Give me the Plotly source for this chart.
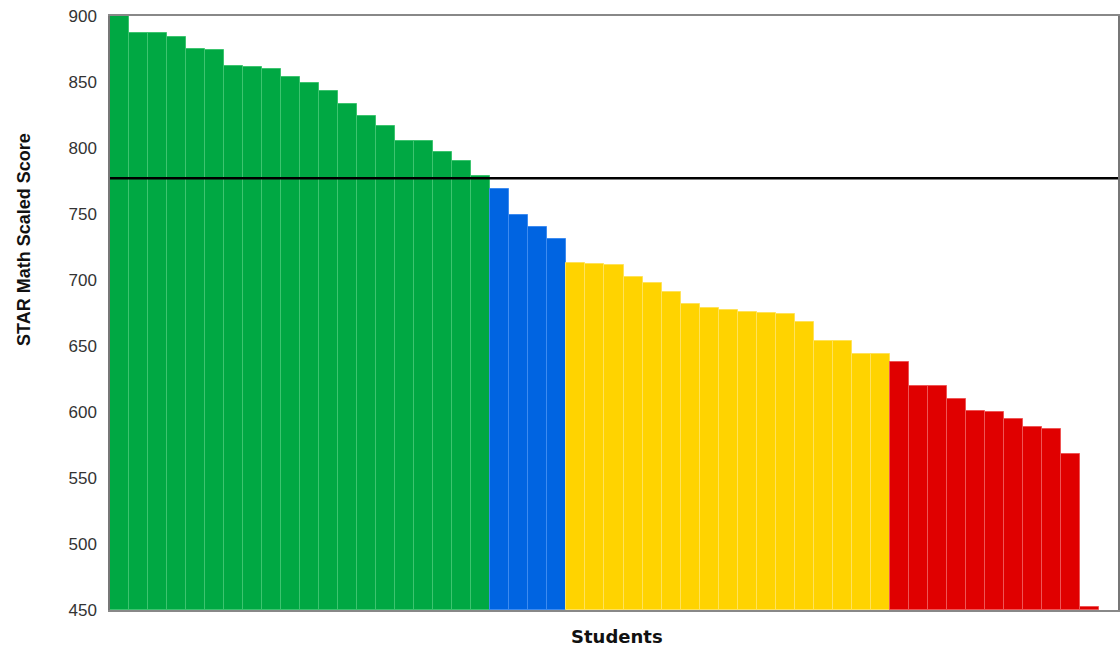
import plotly.graph_objects as go

# Data
green_scores = [900, 887, 887, 884, 875, 874, 862, 861, 860, 854, 849, 843, 833, 824, 817, 805, 805, 797, 790, 779]
blue_scores = [769, 749, 740, 731]
yellow_scores = [713, 712, 711, 702, 698, 691, 682, 679, 677, 676, 675, 674, 668, 654, 654, 644, 644]
red_scores = [638, 620, 620, 610, 601, 600, 595, 589, 587, 568, 452]
benchmark = 777
y_min, y_max = 450, 900
y_ticks = [450, 500, 550, 600, 650, 700, 750, 800, 850, 900]

groups = [
    (green_scores, "#00A843", "#3DC46F"),
    (blue_scores, "#0064E1", "#3D8BF0"),
    (yellow_scores, "#FFD300", "#FFE25A"),
    (red_scores, "#E00000", "#EE5555"),
]

fig = go.Figure()
idx = 0
for scores, color, edge in groups:
    xs = list(range(idx, idx + len(scores)))
    idx += len(scores)
    fig.add_trace(go.Bar(
        x=xs, y=[v - y_min for v in scores], base=y_min,
        marker=dict(color=color, line=dict(color=edge, width=1)),
        showlegend=False, hoverinfo="skip",
    ))

n_slots = idx + 1
fig.add_shape(type="line", xref="paper", yref="y", x0=0, x1=1, y0=benchmark, y1=benchmark,
              line=dict(color="black", width=2.5))

fig.add_annotation(text="<b>Students</b>", xref="paper", yref="paper", x=0.503, y=0,
                   yshift=-26, showarrow=False, yanchor="middle", xanchor="center",
                   font=dict(family="DejaVu Sans, Verdana, sans-serif", size=18, color="#111111"))
fig.add_annotation(text="<b>STAR Math Scaled Score</b>", xref="paper", yref="paper", x=0, y=0.623,
                   xshift=-86, showarrow=False, textangle=-90, xanchor="center", yanchor="middle",
                   font=dict(family="Liberation Sans, Arial, sans-serif", size=18, color="#111111"))

fig.update_layout(
    width=1120, height=648,
    margin=dict(l=110, r=2, t=16, b=38),
    paper_bgcolor="white", plot_bgcolor="white",
    bargap=0, barmode="overlay",
    font=dict(family="Liberation Sans, Arial, sans-serif", color="#333333"),
    xaxis=dict(range=[-0.5, n_slots - 0.5], showticklabels=False, showgrid=False, zeroline=False,
               showline=True, linecolor="#888888", linewidth=1.5, mirror=True, automargin=False),
    yaxis=dict(range=[y_min, y_max], tickvals=y_ticks, automargin=False,
               showgrid=False, zeroline=False, ticks="", ticklabelstandoff=8,
               showline=True, linecolor="#777777", linewidth=1.5, mirror=True,
               tickfont=dict(size=17, color="#333333")),
)

fig.write_html("out.html", config={"displayModeBar": False},
               post_script="document.body.style.margin='0';document.body.style.overflow='hidden';")
